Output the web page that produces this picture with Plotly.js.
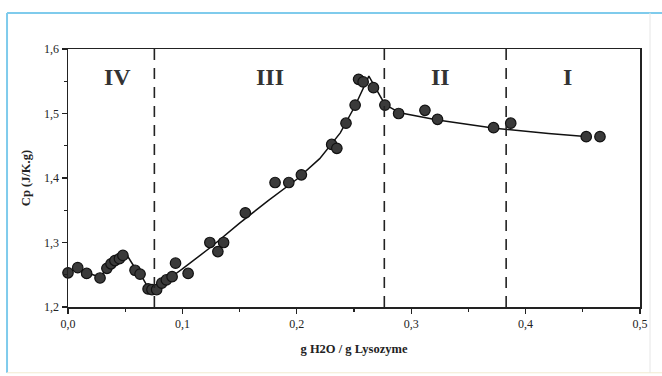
<!DOCTYPE html>
<html>
<head>
<meta charset="utf-8">
<script src="https://cdn.plot.ly/plotly-3.0.1.min.js"></script>
<style>html,body{margin:0;padding:0;background:#fff;}#chart{width:662px;height:376px;}</style>
</head>
<body>
<div id="chart"></div>
<script>
// measured points: water content (g H2O / g lysozyme) and Cp (J/K.g)
const hydration = [0.000,0.0085,0.0163,0.028,0.034,0.0376,0.041,0.045,0.048,0.0586,0.063,0.070,0.0734,0.0775,0.082,0.086,0.091,0.094,0.105,
  0.124,0.131,0.136,0.155,0.181,0.193,0.204,0.2305,0.235,0.243,0.251,0.254,0.258,0.267,0.277,0.289,0.312,0.323,0.372,0.387,0.453,0.465];
const cp = [1.253,1.261,1.252,1.245,1.260,1.267,1.272,1.275,1.280,1.257,1.251,1.228,1.227,1.227,1.237,1.242,1.247,1.268,1.252,
  1.300,1.286,1.300,1.346,1.393,1.393,1.405,1.452,1.446,1.485,1.513,1.553,1.549,1.540,1.513,1.500,1.505,1.491,1.478,1.485,1.464,1.464];
// guide-line through the points
const fitX = [0.000,0.009,0.017,0.028,0.034,0.041,0.048,0.052,0.058,0.063,0.070,0.075,0.080,0.086,0.093,0.100,0.125,0.150,0.175,0.200,0.220,0.238,0.251,0.263,0.277,0.290,0.323,0.373,0.420,0.455];
const fitY = [1.254,1.260,1.253,1.246,1.260,1.271,1.280,1.279,1.262,1.252,1.230,1.226,1.230,1.240,1.250,1.259,1.293,1.330,1.365,1.398,1.430,1.470,1.512,1.558,1.514,1.501,1.490,1.477,1.469,1.464];
// region boundaries and labels
const boundaries = [0.0755, 0.2765, 0.383];
const regionLabels = ['IV','III','II','I'];
const regionX = [0.043, 0.177, 0.326, 0.437];
const regionY = 1.557;
const xTicks = [0, 0.1, 0.2, 0.3, 0.4, 0.5];
const xTickText = ['0,0','0,1','0,2','0,3','0,4','0,5'];
const yTicks = [1.2, 1.3, 1.4, 1.5, 1.6];
const yTickText = ['1,2','1,3','1,4','1,5','1,6'];

const serif = 'Liberation Serif, Times New Roman, serif';

const traces = [
  {x: fitX, y: fitY, mode: 'lines', line: {color: '#111', width: 1.5}, hoverinfo: 'skip', showlegend: false, cliponaxis: false},
  {x: hydration, y: cp, mode: 'markers', showlegend: false, cliponaxis: false,
   marker: {size: 10.5, color: '#3a3a3a', line: {color: '#111', width: 1.2}}}
];

const shapes = boundaries.map(b => ({type: 'line', xref: 'x', yref: 'paper', x0: b, x1: b, y0: 0, y1: 1,
  line: {color: '#222', width: 1.6, dash: '11px,8px'}}));
// light blue frame of the scanned figure
shapes.push({type: 'line', xref: 'paper', yref: 'paper', x0: -0.1066, x1: 1.05, y0: 1.14, y1: 1.14, line: {color: '#7fcbec', width: 2}});
shapes.push({type: 'line', xref: 'paper', yref: 'paper', x0: -0.1066, x1: -0.1066, y0: 1.14, y1: -0.255, line: {color: '#7fcbec', width: 2}});
shapes.push({type: 'line', xref: 'paper', yref: 'paper', x0: -0.1066, x1: 1.05, y0: -0.255, y1: -0.255, line: {color: '#f2ead0', width: 1}});
shapes.push({type: 'line', xref: 'paper', yref: 'paper', x0: 1.0175, x1: 1.0175, y0: 1.14, y1: -0.255, line: {color: '#e6e6e6', width: 1}});

const annotations = regionLabels.map((t, i) => ({x: regionX[i], y: regionY, xref: 'x', yref: 'y', text: '<b>' + t + '</b>',
  showarrow: false, font: {family: serif, size: 24, color: '#333'}}));

const layout = {
  width: 662, height: 376,
  margin: {l: 68, r: 22, t: 49, b: 69},
  paper_bgcolor: '#fff', plot_bgcolor: '#fff',
  separators: ',.',
  font: {family: serif, size: 12, color: '#222'},
  xaxis: {range: [0, 0.5], tickvals: xTicks, ticktext: xTickText, ticks: 'outside', ticklen: 5, tickwidth: 1.3,
    tickcolor: '#222', showline: true, linecolor: '#222', linewidth: 1.5, mirror: true, showgrid: false, zeroline: false,
    minor: {dtick: 0.05, ticks: 'outside', ticklen: 3, tickcolor: '#222', showgrid: false},
    tickfont: {family: serif, size: 12, color: '#222'},
    title: {text: '<b>g H2O / g Lysozyme</b>', font: {family: serif, size: 12.5, color: '#222'}, standoff: 14}},
  yaxis: {range: [1.2, 1.6], tickvals: yTicks, ticktext: yTickText, ticks: 'outside', ticklen: 5, tickwidth: 1.3,
    tickcolor: '#222', showline: true, linecolor: '#222', linewidth: 1.5, mirror: true, showgrid: false, zeroline: false,
    minor: {dtick: 0.05, ticks: 'outside', ticklen: 3, tickcolor: '#222', showgrid: false},
    tickfont: {family: serif, size: 12, color: '#222'},
    title: {text: '<b>Cp (J/K.g)</b>', font: {family: serif, size: 12.5, color: '#222'}, standoff: 10}},
  shapes: shapes,
  annotations: annotations
};

Plotly.newPlot('chart', traces, layout, {displayModeBar: false, staticPlot: true});
</script>
</body>
</html>
